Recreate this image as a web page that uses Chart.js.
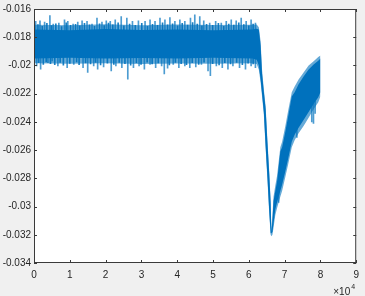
<!DOCTYPE html>
<html>
<head>
<meta charset="utf-8">
<script src="https://cdn.jsdelivr.net/npm/chart.js@4.4.0/dist/chart.umd.min.js"></script>
<style>
    html, body { margin: 0; padding: 0; background: #f0f0f0; }
    #wrap { width: 365px; height: 296px; position: relative; }
</style>
</head>
<body>
<div id="wrap"><canvas id="signalChart"></canvas></div>
<script>
// Envelope of the noisy signal (x in samples)
const bandX = [0, 10000, 20000, 30000, 40000, 50000, 61000, 62200, 62800, 63300, 63700, 64200, 64700, 65200, 65700, 66100, 66300, 66600, 66900, 67400, 67900, 68800, 69300, 70200, 71000, 72000, 72800, 73900, 75300, 76700, 78100, 79400, 80000];
// dense core of the band
const coreHi = [-0.01745, -0.0175, -0.01742, -0.01748, -0.01745, -0.0175, -0.01745, -0.0174, -0.01745, -0.0186, -0.0206, -0.0219, -0.0231, -0.0255, -0.0277, -0.0298, -0.0318, -0.0310, -0.0296, -0.0289, -0.0282, -0.0261, -0.0258, -0.0247, -0.0236, -0.0222, -0.0219, -0.02134, -0.02078, -0.02029, -0.01994, -0.01966, -0.0195];
const coreLo = [-0.0195, -0.01945, -0.0195, -0.01948, -0.0195, -0.01945, -0.0195, -0.0196, -0.0200, -0.0210, -0.0220, -0.0233, -0.0257, -0.0279, -0.0303, -0.0319, -0.0319, -0.0318, -0.0312, -0.0302, -0.0297, -0.0289, -0.02845, -0.0275, -0.0266, -0.0254, -0.02491, -0.02442, -0.02386, -0.0233, -0.02274, -0.02225, -0.0219];
// frayed fringe around the core
const fringeHi = [-0.01712, -0.01715, -0.01708, -0.01716, -0.0171, -0.01714, -0.01712, -0.0171, -0.0173, -0.0183, -0.0203, -0.0217, -0.0229, -0.0253, -0.0275, -0.0296, -0.0316, -0.0306, -0.0293, -0.0285, -0.0278, -0.0258, -0.0254, -0.0243, -0.0232, -0.0219, -0.0215, -0.0210, -0.0205, -0.0200, -0.0197, -0.0194, -0.0193];
const fringeLo = [-0.01985, -0.01988, -0.01984, -0.0199, -0.01986, -0.01988, -0.01985, -0.0199, -0.0203, -0.0212, -0.0222, -0.0235, -0.0259, -0.0281, -0.0305, -0.0320, -0.0321, -0.0320, -0.0315, -0.0306, -0.0301, -0.0293, -0.0289, -0.0279, -0.0270, -0.0258, -0.0253, -0.0248, -0.0243, -0.0237, -0.0231, -0.0226, -0.0222];

// tallest spikes sticking out of the band
const upSpikeX = [470, 1670, 2960, 4440, 5370, 6940, 8520, 9440, 10930, 12220, 13430, 14810, 16200, 17590, 18980, 20190, 21300, 22690, 24360, 25930, 27500, 29170, 31020, 32410, 33800, 35190, 36570, 37960, 39350, 40740, 42130, 43700, 44910, 46300, 47410, 49070, 50740, 52310, 53700, 55090, 56480, 57870, 59260, 60640, 61850];
const upSpikeY = [-0.01688, -0.01684, -0.01693, -0.01646, -0.01707, -0.0170, -0.01677, -0.01688, -0.01707, -0.01693, -0.01684, -0.01688, -0.01707, -0.01665, -0.01693, -0.01684, -0.01688, -0.01677, -0.01653, -0.01665, -0.01688, -0.01684, -0.01688, -0.01677, -0.01688, -0.01665, -0.01677, -0.0166, -0.01688, -0.01677, -0.01688, -0.01665, -0.01642, -0.01653, -0.01684, -0.0170, -0.01688, -0.0170, -0.01688, -0.01677, -0.01684, -0.01665, -0.01688, -0.01677, -0.0170];
const lowSpikeX = [740, 1850, 3890, 5090, 6670, 9260, 11110, 13700, 15000, 16670, 17780, 19440, 21570, 22870, 24540, 26200, 27780, 29350, 30830, 32410, 33980, 35650, 36390, 37310, 38890, 40460, 42130, 43520, 45190, 46760, 48610, 49260, 50930, 52590, 54170, 55560, 57410, 59070, 60640, 61850];
const lowSpikeY = [-0.02003, -0.02027, -0.0198, -0.01968, -0.02003, -0.02015, -0.01992, -0.02015, -0.0205, -0.02003, -0.02027, -0.0201, -0.02038, -0.02003, -0.02015, -0.02097, -0.02015, -0.02003, -0.02027, -0.01992, -0.02015, -0.02003, -0.0206, -0.0202, -0.01992, -0.02015, -0.02003, -0.02015, -0.0201, -0.01992, -0.02038, -0.02073, -0.02003, -0.02015, -0.02027, -0.02003, -0.02015, -0.02027, -0.02003, -0.02015];
// shorter spikes in between, which make the fringe ragged
const midUpX = [1100, 2300, 3600, 4900, 6100, 7700, 9000, 10200, 11600, 12800, 14100, 15500, 16900, 18300, 19600, 20800, 22000, 23500, 25100, 26700, 28300, 30100, 31700, 33100, 34500, 35900, 37300, 38700, 40100, 41400, 42900, 44300, 45600, 46900, 48200, 49900, 51500, 53000, 54400, 55800, 57200, 58600, 60000, 61200];
const midUpY = [-0.0171, -0.01722, -0.01702, -0.01718, -0.01705, -0.01725, -0.01698, -0.01715, -0.01708, -0.0172, -0.01702, -0.01712, -0.01722, -0.01705, -0.01718, -0.017, -0.01712, -0.01698, -0.0172, -0.01706, -0.01715, -0.01702, -0.01722, -0.01708, -0.01716, -0.01698, -0.01712, -0.01705, -0.0172, -0.01702, -0.01714, -0.01696, -0.01706, -0.0172, -0.01708, -0.01716, -0.01702, -0.01722, -0.01706, -0.01714, -0.01698, -0.0171, -0.0172, -0.01706];
const midLowX = [1300, 2600, 3400, 4600, 5800, 7300, 8200, 10000, 11900, 12600, 14400, 15800, 17200, 18600, 20500, 22300, 23800, 25400, 27000, 28600, 29900, 31600, 33000, 34700, 37800, 39500, 41100, 42600, 44200, 46000, 47500, 49900, 51700, 53300, 54900, 56600, 58200, 59800, 61200];
const midLowY = [-0.0198, -0.01992, -0.01975, -0.01988, -0.01995, -0.01978, -0.01998, -0.01985, -0.01975, -0.01995, -0.01982, -0.0199, -0.01978, -0.01996, -0.01984, -0.01992, -0.01978, -0.01988, -0.01998, -0.0198, -0.01992, -0.01976, -0.0199, -0.01982, -0.01996, -0.01978, -0.01988, -0.01994, -0.0198, -0.01992, -0.01976, -0.01988, -0.01996, -0.0198, -0.0199, -0.01978, -0.01994, -0.01984, -0.0199];
const flatMid = -0.0185;
const riseSpikeX = [68330, 73420, 77590, 78060, 78520];
const riseSpikeTip = [-0.0297, -0.0251, -0.0240, -0.0241, -0.0234];
const riseSpikeBase = [-0.0290, -0.0244, -0.0228, -0.0227, -0.0225];

const xTicks = [0, 1, 2, 3, 4, 5, 6, 7, 8, 9];
const xExponent = 4;
const yTicks = [-0.034, -0.032, -0.03, -0.028, -0.026, -0.024, -0.022, -0.02, -0.018, -0.016];

const lineBlue = '#0072BD';
const axisColor = '#262626';
const fontFamily = '"Liberation Sans", Arial, sans-serif';

function toPoints(xs, ys) {
    return xs.map((x, i) => ({ x: x, y: ys[i] }));
}

function spikeBars(xs, tips) {
    return xs.map((x, i) => ({ x: x, y: [flatMid, tips[i]] }));
}

const bandLine = {
    borderWidth: 0,
    borderColor: 'transparent',
    pointRadius: 0,
    tension: 0
};

const spikeStyle = {
    type: 'bar',
    borderWidth: 0,
    barThickness: 1,
    grouped: false
};

// white axes area, box with inward ticks and the x10^4 exponent
const matlabAxes = {
    id: 'matlabAxes',
    beforeDraw(chart) {
        const { ctx, chartArea: a } = chart;
        ctx.save();
        ctx.fillStyle = '#ffffff';
        ctx.fillRect(a.left, a.top, a.right - a.left, a.bottom - a.top);
        ctx.restore();
    },
    afterDraw(chart) {
        const { ctx, chartArea: a, scales } = chart;
        ctx.save();
        ctx.strokeStyle = '#3a3a3a';
        ctx.lineWidth = 1;
        ctx.strokeRect(a.left + 0.5, a.top + 0.5, a.right - a.left - 1, a.bottom - a.top - 1);
        ctx.beginPath();
        scales.x.ticks.forEach(t => {
            const px = Math.round(scales.x.getPixelForValue(t.value)) + 0.5;
            ctx.moveTo(px, a.bottom); ctx.lineTo(px, a.bottom - 3);
            ctx.moveTo(px, a.top); ctx.lineTo(px, a.top + 3);
        });
        scales.y.ticks.forEach(t => {
            const py = Math.round(scales.y.getPixelForValue(t.value)) + 0.5;
            ctx.moveTo(a.left, py); ctx.lineTo(a.left + 3, py);
            ctx.moveTo(a.right, py); ctx.lineTo(a.right - 3, py);
        });
        ctx.stroke();

        ctx.fillStyle = axisColor;
        ctx.textBaseline = 'alphabetic';
        ctx.textAlign = 'right';
        ctx.font = '10px ' + fontFamily;
        ctx.fillText('\u00d710', a.right - 6, 295);
        ctx.textAlign = 'left';
        ctx.font = '7px ' + fontFamily;
        ctx.fillText(String(xExponent), a.right - 5, 289);
        ctx.restore();
    }
};

const chart = new Chart(document.getElementById('signalChart'), {
    type: 'line',
    data: {
        datasets: [
            Object.assign({ data: toPoints(bandX, fringeHi), fill: false }, bandLine),
            Object.assign({ data: toPoints(bandX, fringeLo), fill: '-1', backgroundColor: 'rgba(0, 114, 189, 0.6)' }, bandLine),
            Object.assign({ data: toPoints(bandX, coreHi), fill: false }, bandLine),
            Object.assign({ data: toPoints(bandX, coreLo), fill: '-1', backgroundColor: lineBlue }, bandLine),
            Object.assign({
                data: spikeBars(upSpikeX, upSpikeY).concat(spikeBars(lowSpikeX, lowSpikeY)),
                backgroundColor: 'rgba(0, 114, 189, 0.7)'
            }, spikeStyle),
            Object.assign({
                data: spikeBars(midUpX, midUpY).concat(spikeBars(midLowX, midLowY)),
                backgroundColor: 'rgba(0, 114, 189, 0.9)'
            }, spikeStyle),
            Object.assign({
                data: riseSpikeX.map((x, i) => ({ x: x, y: [riseSpikeTip[i], riseSpikeBase[i]] })),
                backgroundColor: 'rgba(0, 114, 189, 0.7)'
            }, spikeStyle)
        ]
    },
    options: {
        responsive: true,
        maintainAspectRatio: false,
        animation: false,
        layout: {
            padding: { top: 6, right: 7, left: 0, bottom: 0 }
        },
        plugins: {
            legend: { display: false },
            tooltip: { enabled: false }
        },
        scales: {
            x: {
                type: 'linear',
                offset: false,
                min: xTicks[0] * Math.pow(10, xExponent),
                max: xTicks[xTicks.length - 1] * Math.pow(10, xExponent),
                afterBuildTicks: function(scale) {
                    scale.ticks = xTicks.map(v => ({ value: v * Math.pow(10, xExponent) }));
                },
                afterFit: function(scale) { scale.height = 33; },
                grid: { display: false, drawTicks: false },
                border: { display: false },
                ticks: {
                    padding: 6,
                    color: axisColor,
                    font: { family: fontFamily, size: 10 },
                    maxRotation: 0,
                    callback: function(value) {
                        return String(value / Math.pow(10, xExponent));
                    }
                }
            },
            y: {
                type: 'linear',
                min: yTicks[0],
                max: yTicks[yTicks.length - 1],
                afterBuildTicks: function(scale) {
                    scale.ticks = yTicks.map(v => ({ value: v }));
                },
                afterFit: function(scale) { scale.width = 34; },
                grid: { display: false, drawTicks: false },
                border: { display: false },
                ticks: {
                    padding: 3,
                    color: axisColor,
                    font: { family: fontFamily, size: 10 },
                    callback: function(value) {
                        return String(Number(value.toFixed(3)));
                    }
                }
            }
        }
    },
    plugins: [matlabAxes]
});
</script>
</body>
</html>
